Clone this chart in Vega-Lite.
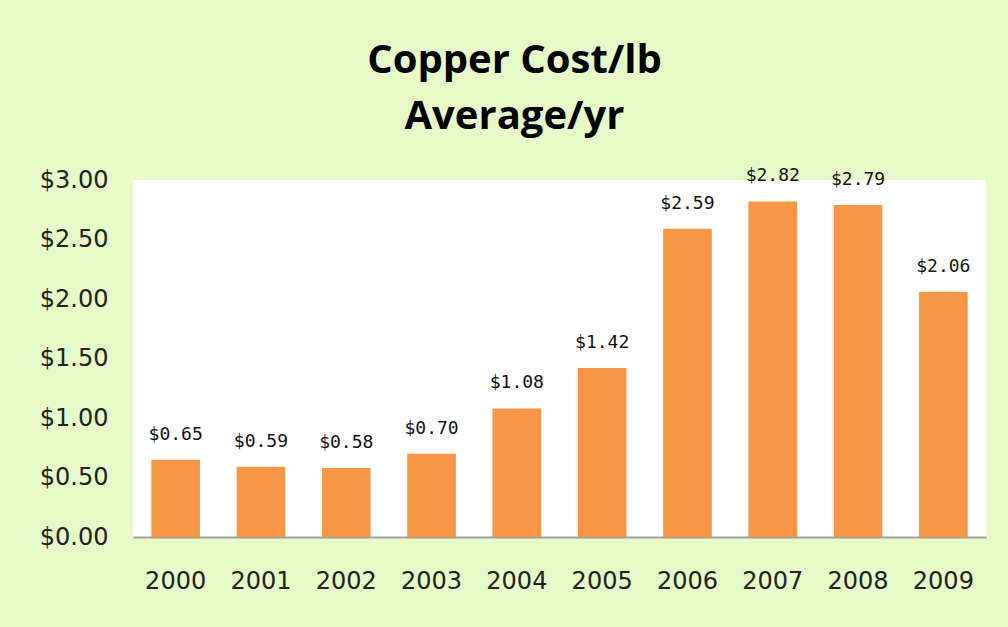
{
  "$schema": "https://vega.github.io/schema/vega-lite/v6.json",
  "width": 853,
  "height": 357,
  "autosize": {"type": "none"},
  "padding": {"left": 133, "top": 180, "right": 22, "bottom": 90},
  "background": "#e6fac8",
  "config": {
    "view": {"fill": "#ffffff", "stroke": null},
    "axis": {"grid": false, "ticks": false}
  },
  "title": {
    "text": ["Copper Cost/lb", "Average/yr"],
    "font": "Open Sans",
    "fontWeight": "bold",
    "fontSize": 40,
    "lineHeight": 56,
    "color": "#000000",
    "anchor": "middle",
    "dx": -45,
    "offset": 30
  },
  "data": {
    "values": [
      {"year": "2000", "cost": 0.65},
      {"year": "2001", "cost": 0.59},
      {"year": "2002", "cost": 0.58},
      {"year": "2003", "cost": 0.70},
      {"year": "2004", "cost": 1.08},
      {"year": "2005", "cost": 1.42},
      {"year": "2006", "cost": 2.59},
      {"year": "2007", "cost": 2.82},
      {"year": "2008", "cost": 2.79},
      {"year": "2009", "cost": 2.06}
    ]
  },
  "encoding": {
    "x": {
      "field": "year",
      "type": "nominal",
      "scale": {"paddingInner": 0.43, "paddingOuter": 0.215},
      "axis": {
        "title": null,
        "labelAngle": 0,
        "labelFont": "DejaVu Sans",
        "labelFontSize": 24,
        "labelColor": "#222222",
        "labelPadding": 32,
        "domainColor": "#a0a0a0",
        "domainWidth": 2
      }
    },
    "y": {
      "field": "cost",
      "type": "quantitative",
      "scale": {"domain": [0, 3], "nice": false},
      "axis": {
        "title": null,
        "values": [0, 0.5, 1, 1.5, 2, 2.5, 3],
        "format": "$.2f",
        "labelFont": "DejaVu Sans",
        "labelFontSize": 24,
        "labelColor": "#222222",
        "labelPadding": 25,
        "domain": false
      }
    }
  },
  "layer": [
    {"mark": {"type": "bar", "color": "#f79646"}},
    {
      "mark": {
        "type": "text",
        "font": "DejaVu Sans Mono",
        "fontSize": 18,
        "color": "#111111",
        "baseline": "alphabetic",
        "dy": -20
      },
      "encoding": {
        "text": {"field": "cost", "type": "quantitative", "format": "$.2f"}
      }
    }
  ]
}
